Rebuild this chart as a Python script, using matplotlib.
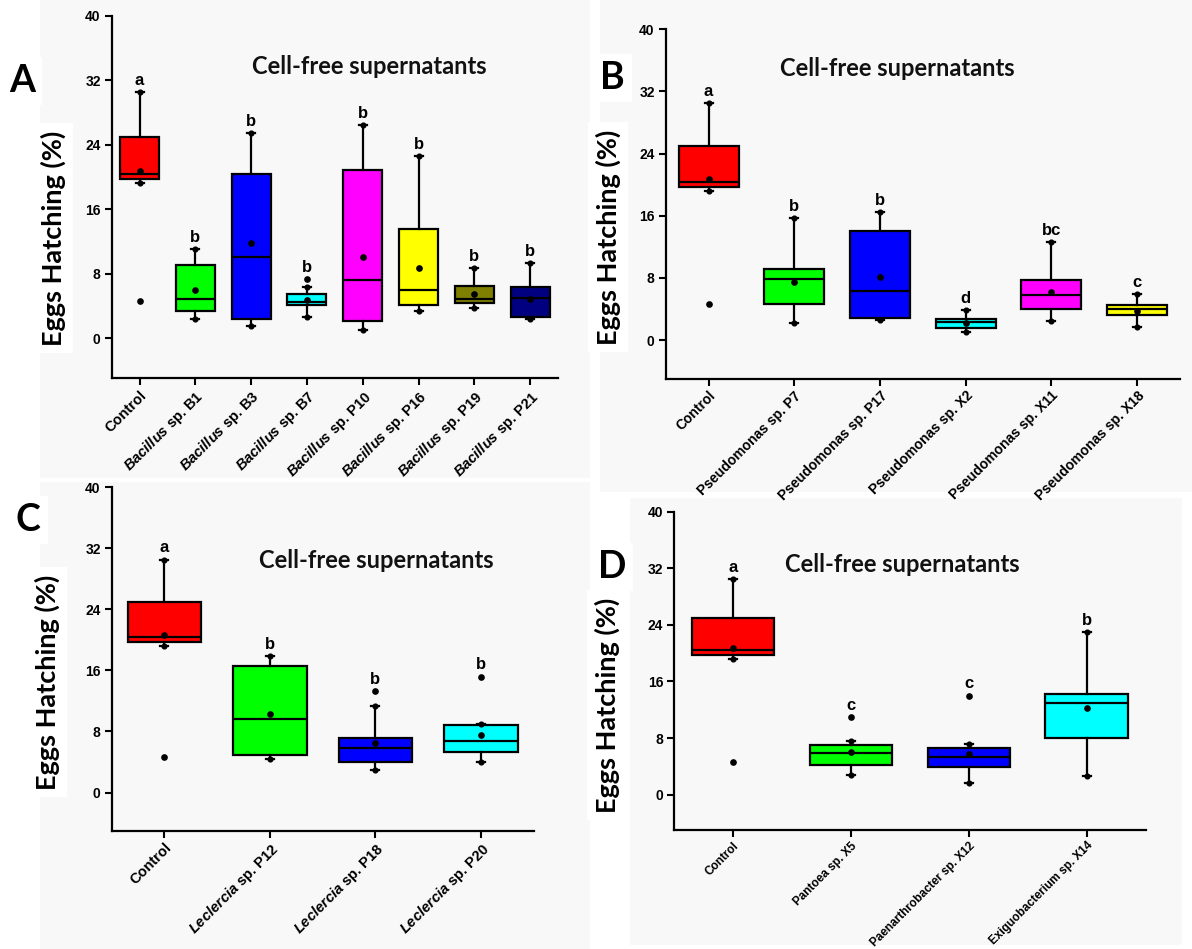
import matplotlib
matplotlib.use("Agg")
import matplotlib.pyplot as plt
from matplotlib.patches import Rectangle

plt.rcParams['font.family'] = ['Liberation Sans', 'DejaVu Sans']
plt.rcParams['mathtext.fontset'] = 'custom'
plt.rcParams['mathtext.rm'] = 'Liberation Sans:bold'
plt.rcParams['mathtext.bf'] = 'Liberation Sans:bold'
plt.rcParams['mathtext.it'] = 'Liberation Sans:italic'
plt.rcParams['mathtext.bfit'] = 'Liberation Sans:bold:italic'

W, H = 1192, 949

# ---- A: Bacillus isolates
a_labels = ['Control'] + [r'$\mathbfit{Bacillus}$ sp. ' + s
                          for s in ['B1', 'B3', 'B7', 'P10', 'P16', 'P19', 'P21']]
a_lo = [19.2, 2.4, 1.5, 2.6, 0.95, 3.35, 3.7, 2.3]
a_q1 = [19.75, 3.4, 2.35, 4.15, 2.05, 4.1, 4.4, 2.6]
a_med = [20.4, 4.85, 10.0, 4.5, 7.2, 5.9, 4.8, 5.0]
a_q3 = [25.0, 9.05, 20.4, 5.4, 20.8, 13.5, 6.45, 6.3]
a_hi = [30.5, 11.0, 25.4, 6.3, 26.4, 22.6, 8.7, 9.3]
a_mean = [20.7, 5.9, 11.8, 4.75, 10.1, 8.75, 5.5, 4.9]
a_out = [[4.6], [], [], [7.3], [], [], [], []]
a_sig = ['a', 'b', 'b', 'b', 'b', 'b', 'b', 'b']
a_colors = ['#ff0000', '#00ff00', '#0000ff', '#00ffff', '#ff00ff', '#ffff00', '#808000', '#000080']

# ---- B: Pseudomonas isolates
b_labels = ['Control'] + ['Pseudomonas sp. ' + s for s in ['P7', 'P17', 'X2', 'X11', 'X18']]
b_lo = [19.2, 2.15, 2.65, 1.1, 2.45, 1.65]
b_q1 = [19.75, 4.7, 2.9, 1.5, 4.05, 3.25]
b_med = [20.4, 7.85, 6.3, 2.35, 5.85, 3.95]
b_q3 = [25.0, 9.2, 14.0, 2.7, 7.7, 4.55]
b_hi = [30.5, 15.7, 16.5, 3.85, 12.6, 5.9]
b_mean = [20.7, 7.45, 8.15, 2.2, 6.2, 3.8]
b_out = [[4.6], [], [], [], [], []]
b_sig = ['a', 'b', 'b', 'd', 'bc', 'c']
b_colors = ['#ff0000', '#00ff00', '#0000ff', '#00ffff', '#ff00ff', '#ffff00']

# ---- C: Leclercia isolates
c_labels = ['Control'] + [r'$\mathbfit{Leclercia}$ sp. ' + s for s in ['P12', 'P18', 'P20']]
c_lo = [19.2, 4.4, 3.0, 4.0]
c_q1 = [19.75, 4.9, 3.95, 5.35]
c_med = [20.4, 9.65, 5.9, 6.8]
c_q3 = [25.0, 16.6, 7.15, 8.9]
c_hi = [30.5, 17.9, 11.3, 9.0]
c_mean = [20.7, 10.3, 6.55, 7.5]
c_out = [[4.6], [], [13.3], [15.2]]
c_sig = ['a', 'b', 'b', 'b']
c_colors = ['#ff0000', '#00ff00', '#0000ff', '#00ffff']

# ---- D: other genera
d_labels = ['Control', 'Pantoea sp. X5', 'Paenarthrobacter sp. X12', 'Exiguobacterium sp. X14']
d_lo = [19.2, 2.8, 1.65, 2.6]
d_q1 = [19.75, 4.25, 3.9, 8.0]
d_med = [20.4, 5.9, 5.35, 13.0]
d_q3 = [25.0, 6.95, 6.65, 14.25]
d_hi = [30.5, 7.6, 7.1, 23.0]
d_mean = [20.7, 6.05, 5.8, 12.2]
d_out = [[4.6], [11.0], [14.0], []]
d_sig = ['a', 'c', 'c', 'b']
d_colors = ['#ff0000', '#00ff00', '#0000ff', '#00ffff']

yticks = [0, 8, 16, 24, 32, 40]

fig = plt.figure(figsize=(W / 100, H / 100), dpi=100)
fig.patch.set_facecolor('white')


def fx(x):
    return x / W


def fy(y):
    return 1 - y / H


def panel(box, bg, labels, lo, q1, med, q3, hi, mean, out, sig, colors,
          letter, letter_xy, ylab_xy, title_xy, xfs=10):
    xl, yt, xr, yb = box
    # faint grey backing behind each panel
    fig.patches.append(Rectangle((fx(bg[0]), fy(bg[3])), (bg[2] - bg[0]) / W,
                                 (bg[3] - bg[1]) / H, transform=fig.transFigure,
                                 facecolor='#f8f8f8', edgecolor='none', zorder=-5))
    ax = fig.add_axes([fx(xl), fy(yb), (xr - xl) / W, (yb - yt) / H])
    ax.set_facecolor('none')
    n = len(labels)
    step = (xr - xl) / n
    stats = []
    for i in range(n):
        stats.append(dict(med=med[i], q1=q1[i], q3=q3[i], whislo=lo[i],
                          whishi=hi[i], mean=mean[i], fliers=out[i]))
    bp = ax.bxp(stats, positions=range(n), widths=0.7, patch_artist=True,
                showmeans=True, capwidths=8 / step,
                boxprops=dict(linewidth=1.6, edgecolor='black'),
                medianprops=dict(color='black', linewidth=1.6),
                whiskerprops=dict(color='black', linewidth=1.6),
                capprops=dict(color='black', linewidth=1.6),
                meanprops=dict(marker='o', markerfacecolor='black',
                               markeredgecolor='black', markersize=3.8),
                flierprops=dict(marker='o', markerfacecolor='black',
                                markeredgecolor='black', markersize=3.8))
    for patch, c in zip(bp['boxes'], colors):
        patch.set_facecolor(c)
    # dots at whisker ends
    ax.plot(range(n), lo, 'o', color='black', ms=3.4, zorder=4)
    ax.plot(range(n), hi, 'o', color='black', ms=3.4, zorder=4)
    for i in range(n):
        top = max([hi[i]] + list(out[i]))
        ax.annotate(sig[i], (i, top), xytext=(0, 8.5), textcoords='offset points',
                    ha='center', va='center', fontsize=12, fontweight='bold')
    ax.set_xlim(-0.5, n - 0.5)
    ax.set_ylim(-5, 40)
    ax.set_yticks(yticks)
    ax.set_xticks(range(n))
    ax.set_xticklabels(labels, rotation=45, ha='right', va='top',
                       rotation_mode='anchor', fontsize=xfs, fontweight='bold')
    for t in ax.get_yticklabels():
        t.set_fontsize(10)
        t.set_fontweight('bold')
    for s in ['top', 'right']:
        ax.spines[s].set_visible(False)
    for s in ['left', 'bottom']:
        ax.spines[s].set_linewidth(1.6)
    ax.tick_params(direction='out', length=5, width=1.5, pad=3)
    ax.tick_params(axis='x', pad=2)

    fig.text(fx(title_xy[0]), fy(title_xy[1]), 'Cell-free supernatants',
             ha='center', va='center', fontsize=17, fontweight='bold',
             family=['Lato', 'DejaVu Sans'], color='#111111')
    fig.text(fx(ylab_xy[0]), fy(ylab_xy[1]), 'Eggs Hatching (%)', rotation=90,
             ha='center', va='center', fontsize=19.5, fontweight='bold',
             family=['Lato', 'DejaVu Sans'],
             bbox=dict(facecolor='white', edgecolor='none', pad=5))
    fig.text(fx(letter_xy[0]), fy(letter_xy[1]), letter, ha='center', va='center',
             fontsize=27, fontweight='bold', family=['Lato', 'DejaVu Sans'],
             bbox=dict(facecolor='white', edgecolor='none', pad=5))
    return ax


panel((111.7, 15.7, 558, 378.3), (40, 0, 590, 478), a_labels, a_lo, a_q1, a_med,
      a_q3, a_hi, a_mean, a_out, a_sig, a_colors, 'A', (22, 81), (53, 238), (369, 66),
      xfs=10.5)
panel((665.7, 29.3, 1180, 379), (600, 0, 1192, 492), b_labels, b_lo, b_q1, b_med,
      b_q3, b_hi, b_mean, b_out, b_sig, b_colors, 'B', (612, 78), (608, 237), (897, 69))
panel((111.7, 487.3, 533.7, 830.7), (40, 482, 590, 949), c_labels, c_lo, c_q1, c_med,
      c_q3, c_hi, c_mean, c_out, c_sig, c_colors, 'C', (28, 520), (47, 682), (376, 561),
      xfs=10.5)
panel((674.3, 511.7, 1145.5, 830), (630, 498, 1182, 945), d_labels, d_lo, d_q1, d_med,
      d_q3, d_hi, d_mean, d_out, d_sig, d_colors, 'D', (612, 567), (607, 705), (902, 564),
      xfs=8.5)

fig.savefig('out.png', dpi=100, facecolor='white')
